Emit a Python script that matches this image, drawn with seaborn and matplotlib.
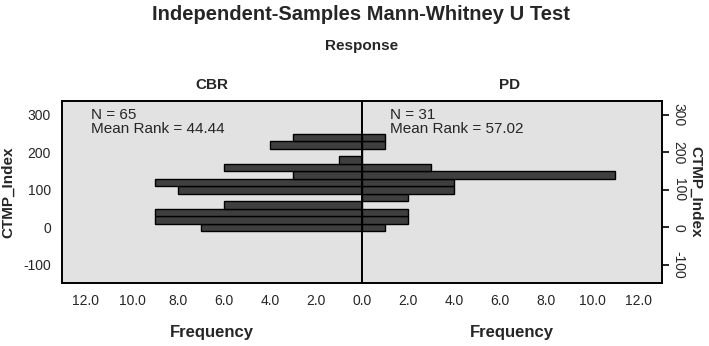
import numpy as np
import pandas as pd
import matplotlib
matplotlib.use('Agg')
import matplotlib.pyplot as plt
import seaborn as sns

# bin centres of CTMP_Index (bin width 20) and counts per group
bin_centers = [0, 20, 40, 60, 80, 100, 120, 140, 160, 180, 200, 220, 240]
cbr_counts = [7, 9, 9, 6, 0, 8, 9, 3, 6, 1, 0, 4, 3]
pd_counts = [1, 2, 2, 0, 2, 4, 4, 11, 3, 0, 0, 1, 1]
groups = ['CBR', 'PD']
group_n = [65, 31]
mean_ranks = [44.44, 57.02]
y_ticks = [-100, 0, 100, 200, 300]
x_ticks = [0, 2, 4, 6, 8, 10, 12]

sns.set_style('white')
plt.rcParams['font.family'] = ['Liberation Sans', 'DejaVu Sans']

BG = '#e2e2e2'
BAR = '#3f3f3f'
xmax = 13.04
ylim = (-148, 337)

fig = plt.figure(figsize=(7.09, 3.46), dpi=100)
ax_l = fig.add_axes([62 / 709, 1 - 283 / 346, 300 / 709, 182 / 346])
ax_r = fig.add_axes([362 / 709, 1 - 283 / 346, 300 / 709, 182 / 346])

for ax, counts in zip([ax_l, ax_r], [cbr_counts, pd_counts]):
    df = pd.DataFrame({'CTMP_Index': bin_centers, 'n': counts})
    sns.histplot(data=df, y='CTMP_Index', weights='n', binwidth=20,
                 binrange=(-10, 250), ax=ax, color=BAR, edgecolor='black',
                 linewidth=1.0, alpha=1)
    ax.set_facecolor(BG)
    ax.set_ylim(*ylim)
    ax.set_yticks(y_ticks)
    ax.set_xlabel('')
    ax.set_ylabel('')
    for s in ax.spines.values():
        s.set_color('black')
        s.set_linewidth(1.4)
    ax.tick_params(axis='both', direction='out', length=5, width=1.2,
                   color='black', labelsize=10, pad=3)

# left panel: frequency grows to the left
ax_l.set_xlim(xmax, 0)
ax_l.set_xticks(x_ticks)
ax_l.set_xticklabels([f'{v:.1f}' for v in x_ticks])
ax_l.set_yticklabels([str(v) for v in y_ticks])
ax_l.set_ylabel('CTMP_Index', fontsize=11, fontweight='bold', labelpad=6)

# right panel
ax_r.set_xlim(0, xmax)
ax_r.set_xticks(x_ticks[1:])
ax_r.set_xticklabels([f'{v:.1f}' for v in x_ticks[1:]])
ax_r.yaxis.tick_right()
ax_r.yaxis.set_label_position('right')
ax_r.tick_params(axis='y', pad=2)
ax_r.set_yticklabels([str(v) for v in y_ticks], rotation=-90, va='center')
ax_r.set_ylabel('CTMP_Index', fontsize=11, fontweight='bold', rotation=-90,
                labelpad=12)

# group stats inside panels
ax_l.text(91 / 709, 1 - 122 / 346, f'N = {group_n[0]}\nMean Rank = {mean_ranks[0]:.2f}',
          transform=fig.transFigure, fontsize=11, va='center', ha='left',
          linespacing=1.0)
ax_r.text(390 / 709, 1 - 122 / 346, f'N = {group_n[1]}\nMean Rank = {mean_ranks[1]:.2f}',
          transform=fig.transFigure, fontsize=11, va='center', ha='left',
          linespacing=1.0)

# titles
fig.text(361 / 709, 1 - 14 / 346, 'Independent-Samples Mann-Whitney U Test',
         ha='center', va='center', fontsize=14.5, fontweight='bold')
fig.text(362 / 709, 1 - 46 / 346, 'Response', ha='center', va='center',
         fontsize=11, fontweight='bold')
fig.text(212 / 709, 1 - 85 / 346, groups[0], ha='center', va='center',
         fontsize=11, fontweight='bold')
fig.text(510 / 709, 1 - 85 / 346, groups[1], ha='center', va='center',
         fontsize=11, fontweight='bold')
fig.text(212 / 709, 1 - 332 / 346, 'Frequency', ha='center', va='center',
         fontsize=12, fontweight='bold')
fig.text(512 / 709, 1 - 332 / 346, 'Frequency', ha='center', va='center',
         fontsize=12, fontweight='bold')

fig.savefig('out.png', dpi=100, facecolor='white')
